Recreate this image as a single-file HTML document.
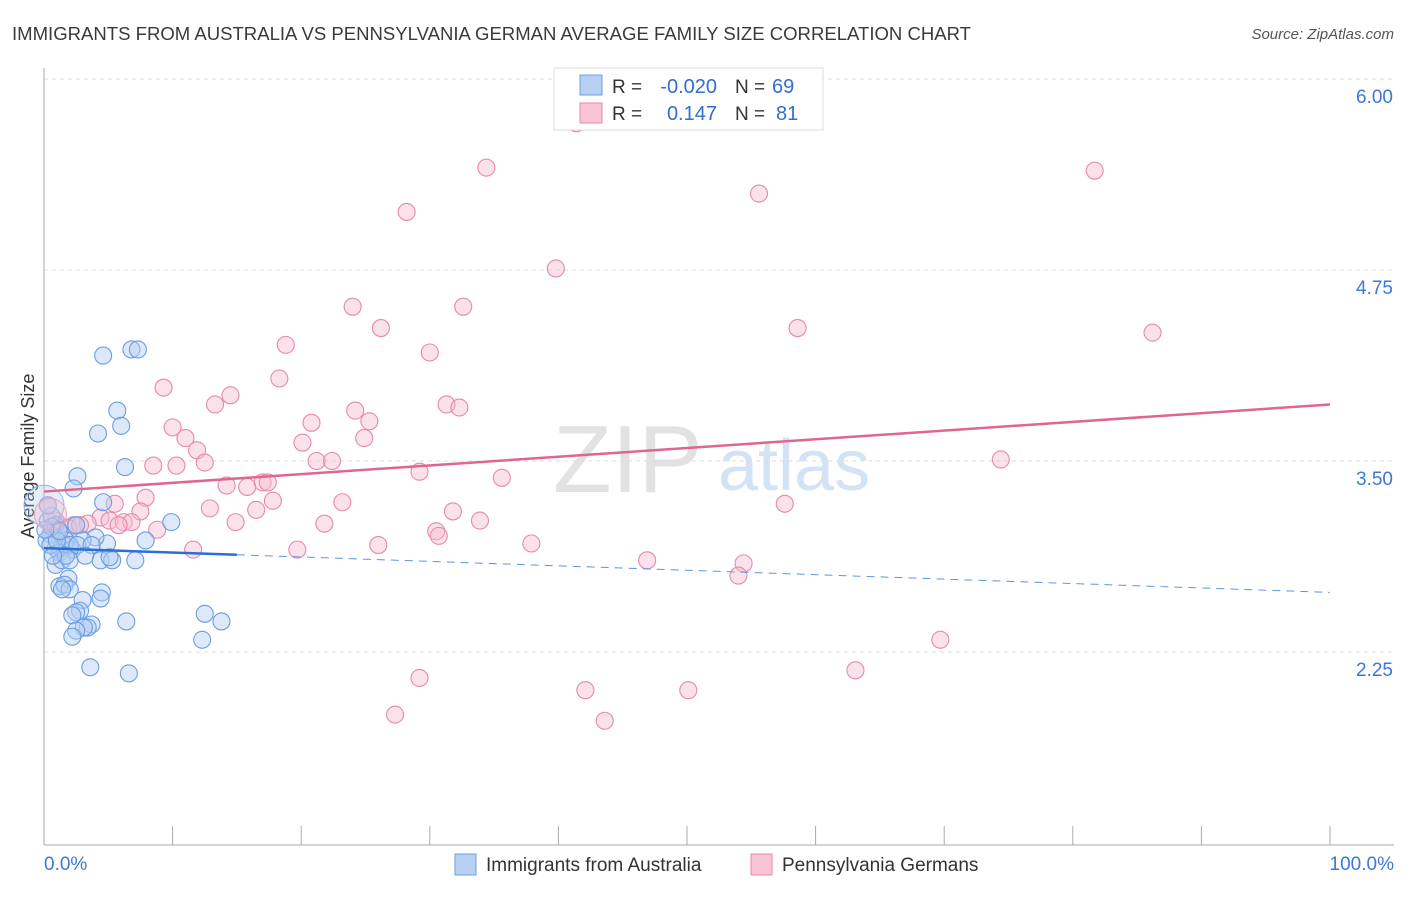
<!DOCTYPE html>
<html><head><meta charset="utf-8"><style>
body{margin:0;background:#fff;font-family:"Liberation Sans",sans-serif}
svg text{font-family:"Liberation Sans",sans-serif}
</style></head><body>
<svg id="chart" width="1406" height="892" xmlns="http://www.w3.org/2000/svg">
<text x="12" y="40" font-size="18" fill="#3a3a3a" textLength="959" lengthAdjust="spacingAndGlyphs">IMMIGRANTS FROM AUSTRALIA VS PENNSYLVANIA GERMAN AVERAGE FAMILY SIZE CORRELATION CHART</text>
<text x="1394" y="39" font-size="15" fill="#555" font-style="italic" text-anchor="end">Source: ZipAtlas.com</text>
<g>
<text x="553" y="492" font-size="96" fill="#e2e2e2" font-family="Liberation Serif">ZIP</text>
<text x="718" y="490" font-size="72" fill="#d3e3f6">atlas</text>
</g>
<g id="grid"></g>
<g id="xaxis"></g>
<text transform="translate(34,456) rotate(-90)" font-size="18" fill="#333" text-anchor="middle">Average Family Size</text>
<g id="points"></g>
<g id="trends"></g>
<g>
<rect x="554" y="68" width="269" height="62" fill="#fff" stroke="#ddd"/>
<rect x="580" y="75" width="22" height="20" fill="#b7d0f2" stroke="#6d9fe0"/>
<rect x="580" y="103" width="22" height="20" fill="#f8c4d5" stroke="#e58aab"/>
<text x="612" y="93" font-size="19" fill="#333">R =</text>
<text x="717" y="93" font-size="20" fill="#2f6fcf" text-anchor="end">-0.020</text>
<text x="735" y="93" font-size="19" fill="#333">N =</text>
<text x="772" y="93" font-size="20" fill="#2f6fcf">69</text>
<text x="612" y="120" font-size="19" fill="#333">R =</text>
<text x="717" y="120" font-size="20" fill="#2f6fcf" text-anchor="end">0.147</text>
<text x="735" y="120" font-size="19" fill="#333">N =</text>
<text x="776" y="120" font-size="20" fill="#2f6fcf">81</text>
</g>
<g>
<rect x="455" y="854" width="21" height="21" fill="#b7d0f2" stroke="#6d9fe0"/>
<text x="486" y="871" font-size="19" fill="#333">Immigrants from Australia</text>
<rect x="751" y="854" width="21" height="21" fill="#f8c4d5" stroke="#e58aab"/>
<text x="782" y="871" font-size="19" fill="#333">Pennsylvania Germans</text>
</g>
</svg>
<script>
const yTicks=[6.00,4.75,3.50,2.25];
const xTickLabels=["0.0%","100.0%"];
const pinkX=[41.4,34.4,81.7,55.6,28.2,39.8,24.0,32.6,26.2,58.6,86.2,18.8,30.0,9.3,18.3,14.5,13.3,31.3,32.3,24.2,10.0,20.8,25.3,11.0,20.1,24.9,11.9,8.5,10.3,12.5,21.2,22.4,74.4,29.2,35.6,17.0,17.4,14.2,15.8,7.9,5.5,17.8,23.2,57.6,12.9,16.5,7.5,31.8,4.4,5.1,6.2,6.8,5.8,2.3,3.4,33.9,21.8,14.9,8.8,30.5,30.7,37.9,26.0,19.7,11.6,46.9,54.4,54.0,69.7,63.1,29.2,42.1,50.1,27.3,43.6,0.3,1.2,1.9,2.8,0.6,0.9];
const pinkY=[5.71,5.42,5.40,5.25,5.13,4.76,4.51,4.51,4.37,4.37,4.34,4.26,4.21,3.98,4.04,3.93,3.87,3.87,3.85,3.83,3.72,3.75,3.76,3.65,3.62,3.65,3.57,3.47,3.47,3.49,3.50,3.50,3.51,3.43,3.39,3.36,3.36,3.34,3.33,3.26,3.22,3.24,3.23,3.22,3.19,3.18,3.17,3.17,3.13,3.11,3.10,3.10,3.08,3.08,3.09,3.11,3.09,3.10,3.05,3.04,3.01,2.96,2.95,2.92,2.92,2.85,2.83,2.75,2.33,2.13,2.08,2.00,2.00,1.84,1.80,3.21,3.08,3.06,3.08,3.05,3.11];
const blueX=[4.6,6.8,7.3,5.7,6.0,4.2,6.3,2.6,2.3,4.6,9.9,7.9,4.9,4.0,3.0,2.5,1.7,1.3,2.2,0.9,1.6,2.0,0.5,0.3,0.6,0.9,1.1,1.2,4.4,5.3,7.1,5.1,0.9,1.4,2.0,1.9,1.2,1.6,2.0,1.4,4.5,4.4,3.0,2.8,2.5,2.2,12.5,13.8,6.4,3.7,3.4,3.1,2.5,2.2,12.3,3.6,6.6,0.2,0.5,1.0,1.7,2.6,3.7,0.3,0.6,1.2,0.1,0.7,3.2];
const blueY=[4.19,4.23,4.23,3.83,3.73,3.68,3.46,3.40,3.32,3.23,3.10,2.98,2.96,3.00,2.98,3.08,2.98,2.93,2.92,2.93,2.95,2.95,3.02,3.11,3.14,3.08,3.05,2.90,2.85,2.85,2.85,2.87,2.82,2.85,2.85,2.73,2.68,2.69,2.66,2.66,2.64,2.60,2.59,2.52,2.51,2.49,2.50,2.45,2.45,2.43,2.41,2.41,2.39,2.35,2.33,2.15,2.11,2.98,2.95,2.98,2.88,2.95,2.95,3.21,3.07,3.04,3.05,2.88,2.88];
const blueTrend=[2.93,2.64];
const pinkTrend=[3.30,3.87];
const NS="http://www.w3.org/2000/svg";
const X0=44,X1=1330;
function sx(p){return X0+(X1-X0)*p/100;}
function sy(v){return 79+(6-v)*152.8;}
function mk(tag,attrs,parent){const e=document.createElementNS(NS,tag);for(const k in attrs)e.setAttribute(k,attrs[k]);parent.appendChild(e);return e;}
const grid=document.getElementById('grid');
yTicks.forEach(t=>{
 const l=mk('line',{x1:44,x2:1394,y1:sy(t),y2:sy(t),stroke:'#ddd','stroke-dasharray':'4,4'},grid);
 
 
 const tx=mk('text',{x:1393,y:sy(t)+24,'font-size':19,fill:'#3b78d8','text-anchor':'end'},grid);
 tx.textContent=t.toFixed(2);
 
 
});
const xa=document.getElementById('xaxis');
const ax=mk('line',{x1:44,x2:44,y1:68,y2:845,stroke:'#aaa'},xa);


const bx=mk('line',{x1:44,x2:1394,y1:845,y2:845,stroke:'#aaa'},xa);


for(let i=0;i<=10;i++){
 const t=mk('line',{x1:sx(i*10),x2:sx(i*10),y1:826,y2:845,stroke:'#aaa'},xa);
 
 
}
[[0,'start',44],[1,'end',1394]].forEach(([i,a,x])=>{
 const t=mk('text',{x:x,y:870,'font-size':19,fill:'#3b78d8','text-anchor':a},xa);
 t.textContent=xTickLabels[i];
 
 
});
const pts=document.getElementById('points');
function drawSeries(xs,ys,fill,stroke,name){
 xs.forEach((x,i)=>{
  const c=mk('circle',{cx:sx(x),cy:sy(ys[i]),r:8.5,fill:fill,'fill-opacity':0.45,stroke:stroke,'stroke-width':1.1},pts);
  
  
 });
}
drawSeries(pinkX,pinkY,'#f6bcd0','#e58aab','pennsylvania-point');
drawSeries(blueX,blueY,'#b3cef2','#6a9de2','australia-point');
const big1=mk('circle',{cx:sx(0),cy:sy(3.21),r:20,fill:'#b3cef2','fill-opacity':0.35,stroke:'#8fb4ea'},pts);


const big2=mk('circle',{cx:sx(0.5),cy:sy(3.15),r:16,fill:'#f6bcd0','fill-opacity':0.35,stroke:'#eaa2bc'},pts);


const tr=document.getElementById('trends');
const bt=(p)=>blueTrend[0]+(blueTrend[1]-blueTrend[0])*p/100;
const l1=mk('line',{x1:sx(0),y1:sy(bt(0)),x2:sx(15),y2:sy(bt(15)),stroke:'#2a6fd6','stroke-width':2.5},tr);


const l2=mk('line',{x1:sx(15),y1:sy(bt(15)),x2:sx(100),y2:sy(bt(100)),stroke:'#5e95e0','stroke-width':1,'stroke-dasharray':'8,6'},tr);


const l3=mk('line',{x1:sx(0),y1:sy(pinkTrend[0]),x2:sx(100),y2:sy(pinkTrend[1]),stroke:'#e0668f','stroke-width':2.5},tr);


</script>
</body></html>
